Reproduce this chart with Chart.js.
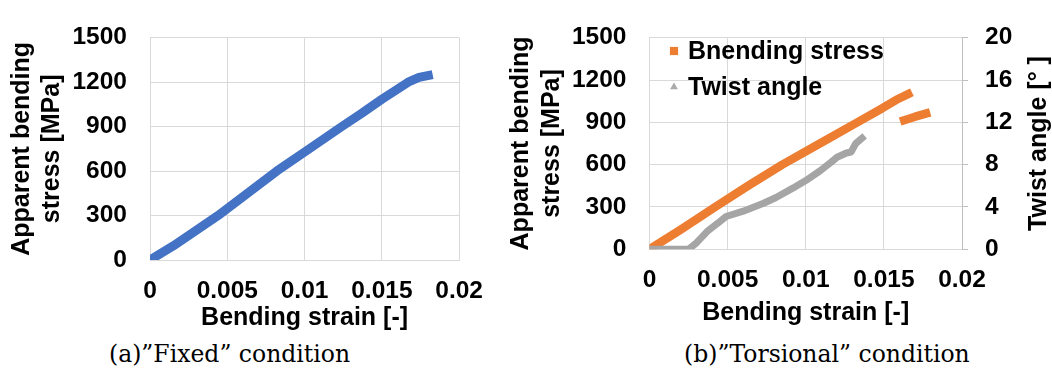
<!DOCTYPE html>
<html>
<head>
<meta charset="utf-8">
<script src="https://cdn.jsdelivr.net/npm/chart.js@4.4.1/dist/chart.umd.min.js"></script>
<style>
  html, body { margin: 0; padding: 0; background: #fff; }
  body { width: 1052px; height: 371px; position: relative; overflow: hidden; }
  canvas { position: absolute; top: 0; }
  #chart-a { left: 0; }
  #chart-b { left: 500px; }
  .caption {
    position: absolute; top: 340px;
    font-family: "DejaVu Serif", serif; font-size: 23.5px; line-height: 28px;
    color: #000; white-space: nowrap;
  }
  #cap-a { left: 109px; }
  #cap-b { left: 684px; }
</style>
</head>
<body>
<canvas id="chart-a" width="500" height="340"></canvas>
<canvas id="chart-b" width="552" height="340"></canvas>
<div class="caption" id="cap-a">(a)”Fixed” condition</div>
<div class="caption" id="cap-b">(b)”Torsional” condition</div>
<script>
(() => {
  "use strict";

  // axes
  const strainTicks = [0, 0.005, 0.01, 0.015, 0.02];
  const strainTickLabels = ["0", "0.005", "0.01", "0.015", "0.02"];
  const stressTicks = [0, 300, 600, 900, 1200, 1500];
  const twistTicks = [0, 4, 8, 12, 16, 20];

  // (a) fixed condition
  const fixedStrain = [0, 0.0015, 0.003, 0.0044, 0.0063, 0.0082, 0.0103, 0.0124, 0.0137, 0.015, 0.0167, 0.0174, 0.018];
  const fixedStress = [0, 95, 200, 300, 450, 600, 750, 900, 990, 1085, 1200, 1232, 1245];

  // (b) torsional condition (null = break in the curve)
  const torsStrain = [0, 0.002, 0.0042, 0.0063, 0.0085, 0.0109, 0.0133, 0.0149, 0.0158, 0.01655, 0.0164, 0.0163, 0.017, 0.0177];
  const torsStress = [0, 140, 300, 450, 600, 750, 900, 1000, 1060, 1100, null, 915, 940, 962];

  const twistStrain = [0, 0.0012, 0.0025, 0.003, 0.0037, 0.0044, 0.0049, 0.006, 0.0073, 0.0081, 0.0092, 0.01, 0.0109, 0.0116, 0.012, 0.0126, 0.0129, 0.0132, 0.0136];
  const twistAngle = [0, 0, 0, 0.6, 1.7, 2.5, 3.1, 3.6, 4.35, 4.9, 5.8, 6.5, 7.4, 8.2, 8.7, 9.1, 9.2, 10.0, 10.5];

  const SANS = "'Liberation Sans', Arial, sans-serif";
  const GRID = "#d9d9d9";
  const BLUE = "#4472C4";
  const ORANGE = "#ED7D31";
  const GRAY = "#A5A5A5";

  Chart.defaults.font.family = SANS;
  Chart.defaults.color = "#000";

  const tickFont = { size: 24.5, weight: "bold" };
  const titleFont = { size: 25, weight: "bold", lineHeight: 1.2 };

  function points(xs, ys) {
    return xs.map((x, i) => ({ x, y: ys[i] }));
  }

  function fixTicks(values) {
    return (scale) => { scale.ticks = values.map(v => ({ value: v })); };
  }

  const plain = (v) => String(v);

  // legend drawn inside the plot area, top-left
  const insideLegend = {
    id: "insideLegend",
    afterDatasetsDraw(chart, args, opts) {
      if (!opts || !opts.items) return;
      const { ctx, chartArea } = chart;
      ctx.save();
      ctx.font = `bold 25px ${SANS}`;
      ctx.textBaseline = "middle";
      ctx.textAlign = "left";
      opts.items.forEach((it, i) => {
        const x = chartArea.left + opts.left;
        const y = chartArea.top + opts.top + i * opts.gap;
        ctx.fillStyle = it.color;
        ctx.strokeStyle = it.color;
        Chart.helpers.drawPoint(ctx, { pointStyle: it.style, radius: it.radius, borderWidth: 0, rotation: 0 }, x, y);
        ctx.fillStyle = "#000";
        ctx.fillText(it.text, x + opts.textGap, y + 1);
      });
      ctx.restore();
    }
  };

  // right axis title reads bottom-to-top like the left one
  const rightTitle = {
    id: "rightTitle",
    afterDraw(chart, args, opts) {
      if (!opts || !opts.text) return;
      const s = chart.scales[opts.scale];
      const { ctx, chartArea } = chart;
      ctx.save();
      ctx.translate(s.right - opts.offset, (chartArea.top + chartArea.bottom) / 2);
      ctx.rotate(-Math.PI / 2);
      ctx.font = `bold 25px ${SANS}`;
      ctx.fillStyle = "#000";
      ctx.textAlign = "center";
      ctx.textBaseline = "middle";
      ctx.fillText(opts.text, 0, 0);
      ctx.restore();
    }
  };

  function strainAxis(height, tickPad, titlePad) {
    return {
      type: "linear", min: 0, max: 0.02,
      afterBuildTicks: fixTicks(strainTicks),
      afterFit: (s) => { s.height = height; },
      grid: { color: GRID, drawTicks: false },
      border: { color: GRID },
      ticks: { font: tickFont, padding: tickPad, maxRotation: 0, callback: (v, i) => strainTickLabels[i] },
      title: { display: true, text: "Bending strain [-]", font: titleFont, padding: { top: 0, bottom: titlePad } }
    };
  }

  function stressAxis(width, tickPad, titlePad, lineHeight) {
    return {
      type: "linear", position: "left", min: 0, max: 1500,
      afterBuildTicks: fixTicks(stressTicks),
      afterFit: (s) => { s.width = width; },
      grid: { color: GRID, drawTicks: false },
      border: { color: GRID },
      ticks: { font: tickFont, padding: tickPad, callback: plain },
      title: {
        display: true, text: ["Apparent bending", "stress [MPa]"],
        font: { size: 25, weight: "bold", lineHeight },
        padding: { top: titlePad, bottom: 0 }
      }
    };
  }

  new Chart(document.getElementById("chart-a"), {
    type: "scatter",
    data: {
      datasets: [{
        label: "Bending stress",
        data: points(fixedStrain, fixedStress),
        showLine: true, borderColor: BLUE, backgroundColor: BLUE,
        borderWidth: 9, pointRadius: 0, tension: 0,
        borderCapStyle: "square", borderJoinStyle: "round"
      }]
    },
    options: {
      responsive: false, animation: false, devicePixelRatio: 1,
      layout: { padding: { top: 19, right: 33, left: 0, bottom: 0 } },
      plugins: { legend: { display: false }, tooltip: { enabled: false } },
      scales: {
        x: strainAxis(80, 17, 7),
        y: stressAxis(150, 23, 7, 1.2)
      }
    }
  });

  new Chart(document.getElementById("chart-b"), {
    type: "scatter",
    data: {
      datasets: [{
        label: "Bnending stress",
        data: points(torsStrain, torsStress),
        yAxisID: "y", order: 1,
        showLine: true, spanGaps: false, borderColor: ORANGE, backgroundColor: ORANGE,
        borderWidth: 8.5, pointRadius: 0, tension: 0,
        borderCapStyle: "square", borderJoinStyle: "round"
      }, {
        label: "Twist angle",
        data: points(twistStrain, twistAngle),
        yAxisID: "y2", order: 0,
        showLine: true, borderColor: GRAY, backgroundColor: GRAY,
        borderWidth: 7, pointRadius: 0, tension: 0,
        borderCapStyle: "square", borderJoinStyle: "round"
      }]
    },
    options: {
      responsive: false, animation: false, devicePixelRatio: 1,
      layout: { padding: { top: 22.7, right: 0, left: 0, bottom: 0 } },
      plugins: {
        legend: { display: false }, tooltip: { enabled: false },
        insideLegend: {
          left: 24.5, top: 13.3, gap: 36, textGap: 14,
          items: [
            { text: "Bnending stress", color: ORANGE, style: "rect", radius: 5.8 },
            { text: "Twist angle", color: "#ababab", style: "triangle", radius: 4.5 }
          ]
        },
        rightTitle: { scale: "y2", offset: 13, text: "Twist angle [° ]" }
      },
      scales: {
        x: strainAxis(90.7, 16, 12),
        y: stressAxis(149.5, 23, 6, 1.24),
        y2: {
          type: "linear", position: "right", min: 0, max: 20,
          afterBuildTicks: fixTicks(twistTicks),
          afterFit: (s) => { s.width = 90; },
          grid: { drawOnChartArea: false, drawTicks: true, tickLength: 6, color: "#bfbfbf" },
          border: { color: "#bfbfbf" },
          ticks: { font: tickFont, padding: 17, callback: plain },
          title: { display: false }
        }
      }
    },
    plugins: [insideLegend, rightTitle]
  });
})();
</script>
</body>
</html>
